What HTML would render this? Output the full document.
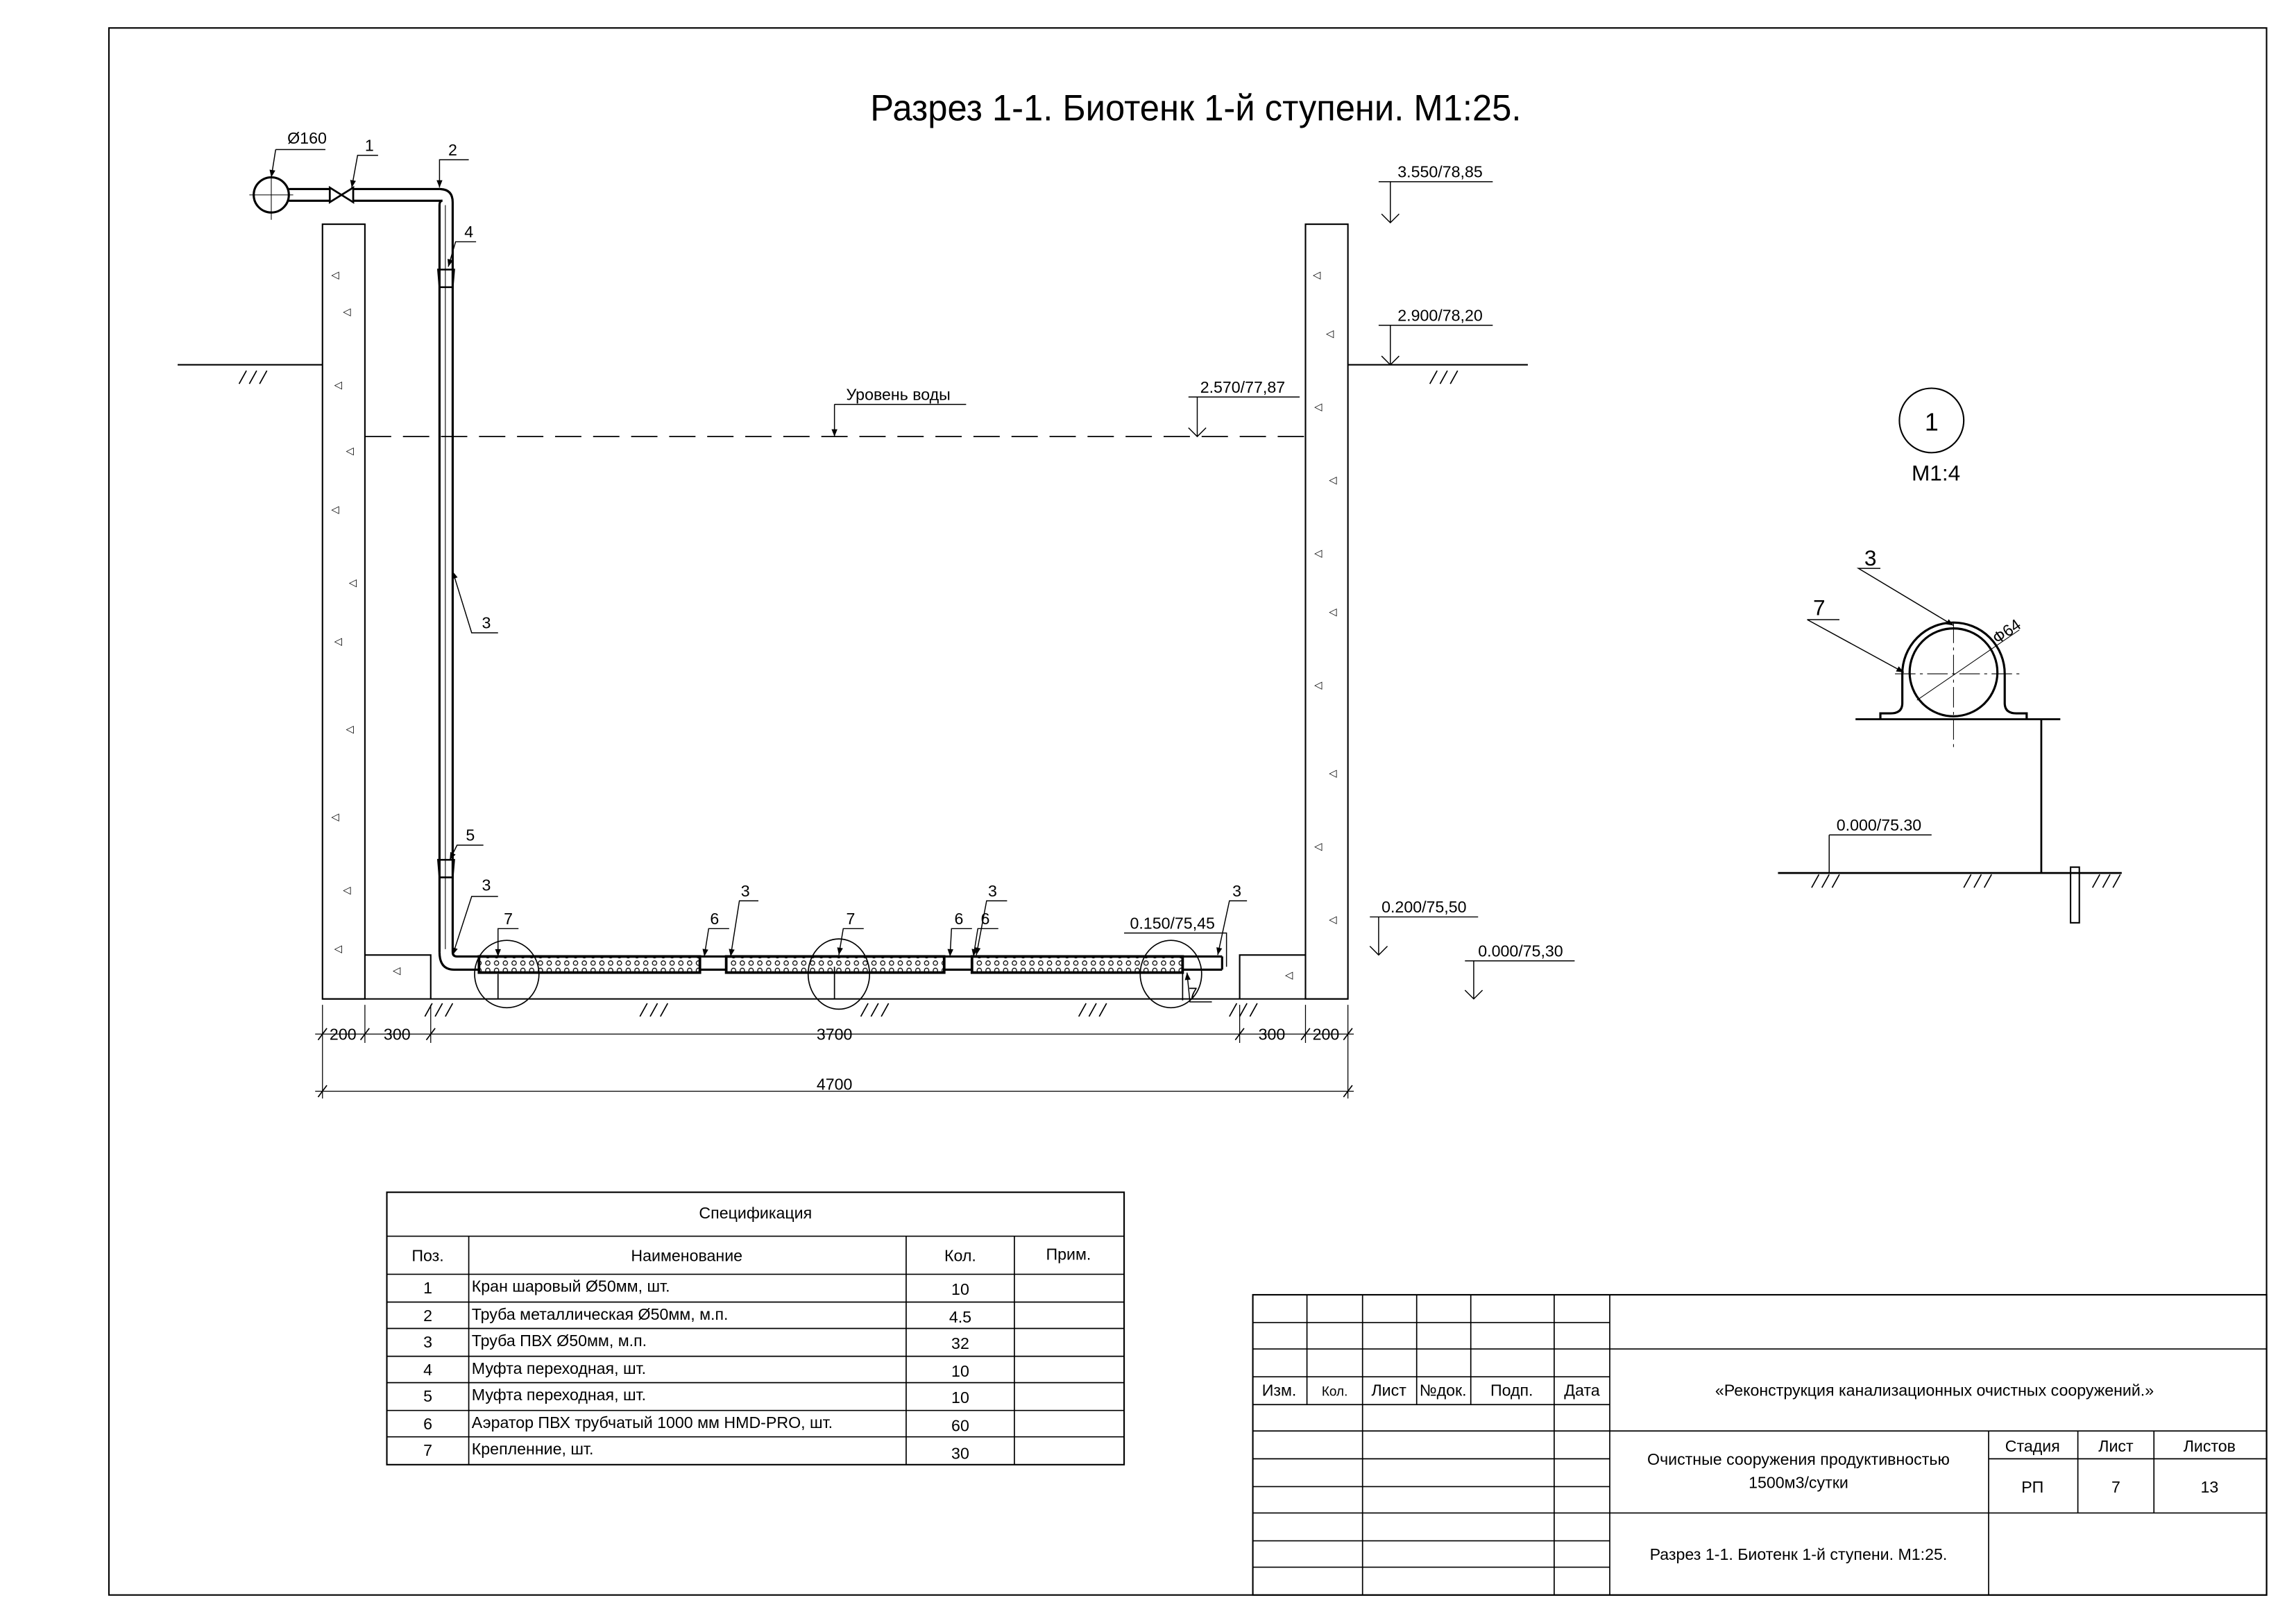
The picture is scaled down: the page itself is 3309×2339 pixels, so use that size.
<!DOCTYPE html>
<html><head><meta charset="utf-8"><style>
html,body{margin:0;padding:0;background:#fff}
svg{display:block}
text{font-family:"Liberation Sans Narrow","Liberation Sans","DejaVu Sans",sans-serif;fill:#000}
</style></head><body>
<svg width="3309" height="2339" viewBox="0 0 1560 1103" preserveAspectRatio="none" xmlns="http://www.w3.org/2000/svg">
<defs>
<pattern id="aer" width="6" height="5" patternUnits="userSpaceOnUse">
<rect width="6" height="5" fill="#fff"/>
<circle cx="3" cy="2.5" r="1.5" fill="none" stroke="#000" stroke-width="0.6"/>
</pattern>
<marker id="ar" viewBox="0 0 10 10" refX="10" refY="5" markerWidth="7" markerHeight="5" orient="auto-start-reverse" markerUnits="userSpaceOnUse"><path d="M0,1 L10,5 L0,9z" fill="#000"/></marker>
</defs>
<g transform="matrix(0.9939 0 0 0.9953 0.45 0.09)">
<g fill="none" stroke="#000" stroke-width="1">
<rect x="74" y="19" width="1475" height="1070"/>
<rect x="220" y="153" width="29" height="529"/>
<rect x="892" y="153" width="29" height="529"/>
<path d="M249 652 H294 V682 M892 652 H847 V682 M220 682 H921"/>
<path d="M121 249 H220 M921 249 H1044" />
<path d="M163 262 l5 -9 M170 262 l5 -9 M177 262 l5 -9 M977 262 l5 -9 M984 262 l5 -9 M991 262 l5 -9" stroke-width="0.8"/>
<path d="M290 694 l5 -9 M297 694 l5 -9 M304 694 l5 -9 M437 694 l5 -9 M444 694 l5 -9 M451 694 l5 -9 M588 694 l5 -9 M595 694 l5 -9 M602 694 l5 -9 M737 694 l5 -9 M744 694 l5 -9 M751 694 l5 -9 M840 694 l5 -9 M847 694 l5 -9 M854 694 l5 -9" stroke-width="0.8"/>
<path d="M249 298 H892" stroke-dasharray="18 8" stroke-width="0.8"/>
<circle cx="185" cy="133" r="12" stroke-width="1.5"/>
<path d="M170 133 H200 M185 118 V150" stroke-width="0.5"/>
<path d="M197 129 H225 M197 137 H225 M241 129 H300 M241 137 H302" stroke-width="1.5"/>
<path d="M225 128 V138 L241 128 V138 Z" stroke-width="1.3"/>
<path d="M300 129 Q309 129 309 138 V650 M302 137 Q300 137 300 140 V650" stroke-width="1.5"/>
<path d="M300 650 Q300 662 310 662 H835 M309 650 Q309 653 312 653 H835 M835 653 V662" stroke-width="1.5"/>
<path d="M304 140 V648" stroke-width="0.5"/>
<path d="M299 184 H310 L309 196 H300 Z M299 587 H310 L309 599 H300 Z" stroke-width="1.2"/>
<rect x="327" y="653" width="151" height="11" fill="url(#aer)" stroke-width="1.8"/>
<rect x="496" y="653" width="149" height="11" fill="url(#aer)" stroke-width="1.8"/>
<rect x="664" y="653" width="144" height="11" fill="url(#aer)" stroke-width="1.8"/>
<ellipse cx="346" cy="665" rx="22" ry="23" stroke-width="0.8"/>
<ellipse cx="573" cy="665" rx="21" ry="24" stroke-width="0.8"/>
<ellipse cx="800" cy="665" rx="21" ry="23" stroke-width="0.8"/>
<path d="M340 665 V682 M570 660 V682 M808 660 V683" stroke-width="0.8"/>
<path d="M215 706 H925 M220 686 V750 M249 686 V712 M294 686 V712 M847 686 V712 M892 686 V712 M921 686 V750 M215 745 H925" stroke-width="0.6"/>
<path d="M217 710 l6 -8 M246 710 l6 -8 M291 710 l6 -8 M844 710 l6 -8 M889 710 l6 -8 M918 710 l6 -8 M217 749 l6 -8 M918 749 l6 -8" stroke-width="0.8"/>
<path d="M942 124 H1020 M950 124 V152 M944 146 L950 152 L956 146" stroke-width="0.7"/>
<path d="M942 222 H1020 M950 222 V249 M944 243 L950 249 L956 243" stroke-width="0.7"/>
<path d="M812 271 H888 M818 271 V298 M812 292 L818 298 L824 292" stroke-width="0.7"/>
<path d="M936 626 H1010 M942 626 V652 M936 646 L942 652 L948 646" stroke-width="0.7"/>
<path d="M1001 656 H1076 M1007 656 V682 M1001 676 L1007 682 L1013 676" stroke-width="0.7"/>
<path d="M768 637 H838 V660" stroke-width="0.7"/>
<path d="M1250 570 H1320 M1250 570 V596" stroke-width="0.7"/>
<g stroke-width="0.7" marker-end="url(#ar)">
<path d="M570 276 H660" marker-end="none"/>
<path d="M570 276 V298"/>
<path d="M188 102 H222 M188 102 L185 121" />
<path d="M258 106 H244 L240 128"/>
<path d="M320 109 H300 L300 128"/>
<path d="M325 165 H311 L306 182"/>
<path d="M340 432 H322 L309 390"/>
<path d="M330 577 H312 L307 587"/>
<path d="M340 612 H322 L309 652"/>
<path d="M354 634 H340 L340 653"/>
<path d="M498 634 H484 L481 653"/>
<path d="M518 615 H505 L499 653"/>
<path d="M590 634 H576 L573 652"/>
<path d="M664 634 H650 L649 653"/>
<path d="M682 634 H668 L665 653"/>
<path d="M688 615 H674 L667 652"/>
<path d="M852 615 H840 L832 652"/>
<path d="M828 684 H813 L811 664"/>
<path d="M1285 388 H1270 L1335 427"/>
<path d="M1257 423 H1235 L1301 459"/>
</g>
<circle cx="1320" cy="287" r="22"/>
<path d="M1268 491 H1408 M1395 491 V596 M1215 596 H1450" stroke-width="1.3"/>
<rect x="1415" y="592" width="6" height="38" stroke-width="1"/>
<path d="M1238 606 l5 -9 M1245 606 l5 -9 M1252 606 l5 -9 M1342 606 l5 -9 M1349 606 l5 -9 M1356 606 l5 -9 M1430 606 l5 -9 M1437 606 l5 -9 M1444 606 l5 -9" stroke-width="0.8"/>
<circle cx="1335" cy="459" r="30" stroke-width="1.5"/>
<path d="M1300 480 V460 A35 35 0 0 1 1370 460 V480 Q1370 487 1378 487 H1385 V491 M1300 480 Q1300 487 1292 487 H1285 V491" stroke-width="1.5"/>
<path d="M1335 425 V510 M1295 460 H1382" stroke-width="0.5" stroke-dasharray="14 3 2 3"/>
<path d="M1310 478 L1380 430" stroke-width="0.5"/>
<rect x="264" y="814" width="504" height="186"/>
<path d="M264 844 H768 M264 870 H768 M264 889 H768 M264 907 H768 M264 926 H768 M264 944 H768 M264 963 H768 M264 981 H768 M320 844 V1000 M619 844 V1000 M693 844 V1000" stroke-width="0.8"/>
<rect x="856" y="884" width="693" height="205"/>
<path d="M856 903 H1100 M856 921 H1549 M856 940 H1100 M856 959 H1100 M856 977 H1549 M856 996 H1100 M1359 996 H1549 M856 1015 H1100 M856 1033 H1549 M856 1052 H1100 M856 1070 H1100" stroke-width="0.8"/>
<path d="M893 884 V959 M931 884 V1089 M968 884 V959 M1005 884 V959 M1062 884 V1089 M1100 884 V1089 M1359 977 V1089 M1420 977 V1033 M1472 977 V1033" stroke-width="0.8"/>
</g>
<g fill="#000" font-size="7">
<text x="226" y="190">◁</text><text x="234" y="215">◁</text><text x="228" y="265">◁</text><text x="236" y="310">◁</text><text x="226" y="350">◁</text><text x="238" y="400">◁</text><text x="228" y="440">◁</text><text x="236" y="500">◁</text><text x="226" y="560">◁</text><text x="234" y="610">◁</text><text x="228" y="650">◁</text><text x="268" y="665">◁</text>
<text x="897" y="190">◁</text><text x="906" y="230">◁</text><text x="898" y="280">◁</text><text x="908" y="330">◁</text><text x="898" y="380">◁</text><text x="908" y="420">◁</text><text x="898" y="470">◁</text><text x="908" y="530">◁</text><text x="898" y="580">◁</text><text x="908" y="630">◁</text><text x="878" y="668">◁</text>
</g>
<g font-size="11">
<text x="817" y="82" font-size="25" text-anchor="middle" textLength="445" lengthAdjust="spacingAndGlyphs">Разрез 1-1. Биотенк 1-й ступени. М1:25.</text>
<text x="196" y="98">Ø160</text><text x="249" y="103">1</text><text x="306" y="106">2</text><text x="317" y="162">4</text>
<text x="329" y="429">3</text><text x="318" y="574">5</text><text x="329" y="608">3</text><text x="344" y="631">7</text>
<text x="485" y="631">6</text><text x="506" y="612">3</text><text x="578" y="631">7</text><text x="652" y="631">6</text><text x="670" y="631">6</text><text x="675" y="612">3</text><text x="842" y="612">3</text><text x="812" y="682">7</text>
<text x="578" y="273">Уровень воды</text>
<text x="955" y="121">3.550/78,85</text><text x="955" y="219">2.900/78,20</text><text x="820" y="268">2.570/77,87</text>
<text x="944" y="623">0.200/75,50</text><text x="1010" y="653">0.000/75,30</text><text x="772" y="634">0.150/75,45</text>
<text x="1255" y="567">0.000/75.30</text>
<text x="234" y="710" text-anchor="middle">200</text><text x="271" y="710" text-anchor="middle">300</text><text x="570" y="710" text-anchor="middle">3700</text><text x="869" y="710" text-anchor="middle">300</text><text x="906" y="710" text-anchor="middle">200</text>
<text x="570" y="744" text-anchor="middle">4700</text>
<text x="1320" y="294" font-size="17" text-anchor="middle">1</text>
<text x="1323" y="328" font-size="15" text-anchor="middle">М1:4</text>
<text x="1274" y="386" font-size="15">3</text><text x="1239" y="420" font-size="15">7</text>
<text x="1365" y="440" transform="rotate(-35 1365 440)">Ф64</text>
<text x="516" y="832" text-anchor="middle">Спецификация</text>
<text x="292" y="861" text-anchor="middle">Поз.</text><text x="469" y="861" text-anchor="middle">Наименование</text><text x="656" y="861" text-anchor="middle">Кол.</text><text x="730" y="860" text-anchor="middle">Прим.</text>
<text x="292" y="883" text-anchor="middle">1</text><text x="322" y="882">Кран шаровый Ø50мм, шт.</text><text x="656" y="884" text-anchor="middle">10</text>
<text x="292" y="902" text-anchor="middle">2</text><text x="322" y="901">Труба металлическая Ø50мм, м.п.</text><text x="656" y="903" text-anchor="middle">4.5</text>
<text x="292" y="920" text-anchor="middle">3</text><text x="322" y="919">Труба ПВХ  Ø50мм, м.п.</text><text x="656" y="921" text-anchor="middle">32</text>
<text x="292" y="939" text-anchor="middle">4</text><text x="322" y="938">Муфта переходная, шт.</text><text x="656" y="940" text-anchor="middle">10</text>
<text x="292" y="957" text-anchor="middle">5</text><text x="322" y="956">Муфта переходная, шт.</text><text x="656" y="958" text-anchor="middle">10</text>
<text x="292" y="976" text-anchor="middle">6</text><text x="322" y="975">Аэратор ПВХ трубчатый 1000 мм HMD-PRO, шт.</text><text x="656" y="977" text-anchor="middle">60</text>
<text x="292" y="994" text-anchor="middle">7</text><text x="322" y="993">Крепленние, шт.</text><text x="656" y="996" text-anchor="middle">30</text>
<text x="874" y="953" text-anchor="middle">Изм.</text><text x="912" y="953" text-anchor="middle" font-size="9">Кол.</text><text x="949" y="953" text-anchor="middle">Лист</text><text x="986" y="953" text-anchor="middle">№док.</text><text x="1033" y="953" text-anchor="middle">Подп.</text><text x="1081" y="953" text-anchor="middle">Дата</text>
<text x="1322" y="953" text-anchor="middle">«Реконструкция канализационных очистных сооружений.»</text>
<text x="1229" y="1000" text-anchor="middle">Очистные сооружения продуктивностью</text><text x="1229" y="1016" text-anchor="middle">1500м3/сутки</text>
<text x="1389" y="991" text-anchor="middle">Стадия</text><text x="1446" y="991" text-anchor="middle">Лист</text><text x="1510" y="991" text-anchor="middle">Листов</text>
<text x="1389" y="1019" text-anchor="middle">РП</text><text x="1446" y="1019" text-anchor="middle">7</text><text x="1510" y="1019" text-anchor="middle">13</text>
<text x="1229" y="1065" text-anchor="middle">Разрез 1-1. Биотенк 1-й ступени. М1:25.</text>
</g>
</g>
</svg>
</body></html>
